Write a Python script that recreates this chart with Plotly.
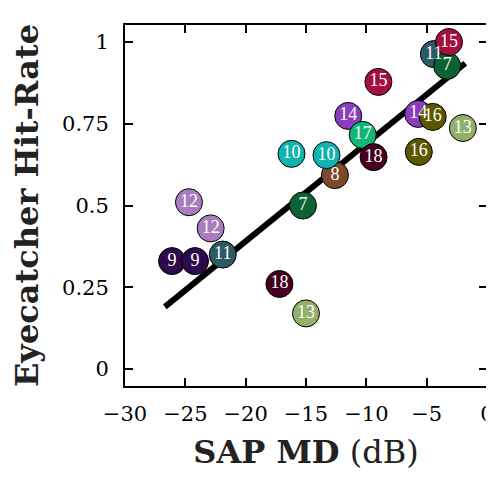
import plotly.graph_objects as go

# Data
labels = ["9", "9", "12", "12", "11", "18", "13", "7", "8", "10", "10", "14",
          "17", "18", "15", "16", "14", "16", "13", "11", "7", "15"]
sap_md = [-26.1, -24.2, -24.7, -22.9, -21.9, -17.2, -15.0, -15.25, -12.6, -16.2, -13.3, -11.5,
          -10.3, -9.4, -9.0, -5.65, -5.7, -4.5, -2.0, -4.4, -3.3, -3.15]
hit_rate = [0.33, 0.33, 0.51, 0.43, 0.35, 0.26, 0.17, 0.50, 0.593, 0.658, 0.654, 0.774,
            0.716, 0.648, 0.878, 0.664, 0.78, 0.771, 0.737, 0.963, 0.927, 1.0]

label_colors = {
    "7": "#0b6333", "8": "#7b4a2c", "9": "#2d0a4b", "10": "#10b3b0",
    "11": "#2c5a66", "12": "#a77dbd", "13": "#93b06a", "14": "#8a3dbf",
    "15": "#a30f3e", "16": "#5b5800", "17": "#10b876", "18": "#46001f",
}

fit_x = [-26.7, -1.8]
fit_y = [0.19, 0.935]

x_ticks = [-30, -25, -20, -15, -10, -5, 0]
x_ticktext = ["\u221230", "\u221225", "\u221220", "\u221215", "\u221210", "\u22125", "0"]
y_ticks = [0, 0.25, 0.5, 0.75, 1]
y_ticktext = ["0", "0.25", "0.5", "0.75", "1"]

fig = go.Figure()
fig.add_trace(go.Scatter(
    x=fit_x, y=fit_y, mode="lines",
    line=dict(color="black", width=6), hoverinfo="skip", showlegend=False,
))
fig.add_trace(go.Scatter(
    x=sap_md, y=hit_rate, mode="markers+text", text=labels,
    textposition="middle center",
    textfont=dict(family="Liberation Serif", size=18, color="white"),
    marker=dict(size=27, color=[label_colors[l] for l in labels],
                line=dict(color="black", width=1), opacity=1),
    showlegend=False,
))

axis_common = dict(
    showgrid=False, zeroline=False, showline=True, linecolor="black", linewidth=2,
    mirror="ticks", ticks="inside", ticklen=8, tickwidth=1.5, tickcolor="black",
    tickfont=dict(family="DejaVu Serif", size=21, color="black"),
    automargin=False, ticklabeloverflow="allow",
)

fig.update_xaxes(
    range=[-30, 0], tickvals=x_ticks, ticktext=x_ticktext,
    title=dict(text="<b>SAP MD</b> (dB)", font=dict(family="DejaVu Serif", size=32, color="#222")),
    ticklabelstandoff=8,
    **axis_common,
)
fig.update_yaxes(
    range=[-0.052, 1.052], tickvals=y_ticks, ticktext=y_ticktext,
    title=dict(text="<b>Eyecatcher Hit-Rate</b>", font=dict(family="DejaVu Serif", size=32, color="#222")),
    ticklabelstandoff=10,
    **axis_common,
)

# page body adds an 8px offset, so the figure is sized to the visible area
fig.update_layout(
    width=486, height=464,
    margin=dict(l=117, r=7, t=17, b=86),
    plot_bgcolor="white", paper_bgcolor="white",
)

fig.write_html("out.html")
